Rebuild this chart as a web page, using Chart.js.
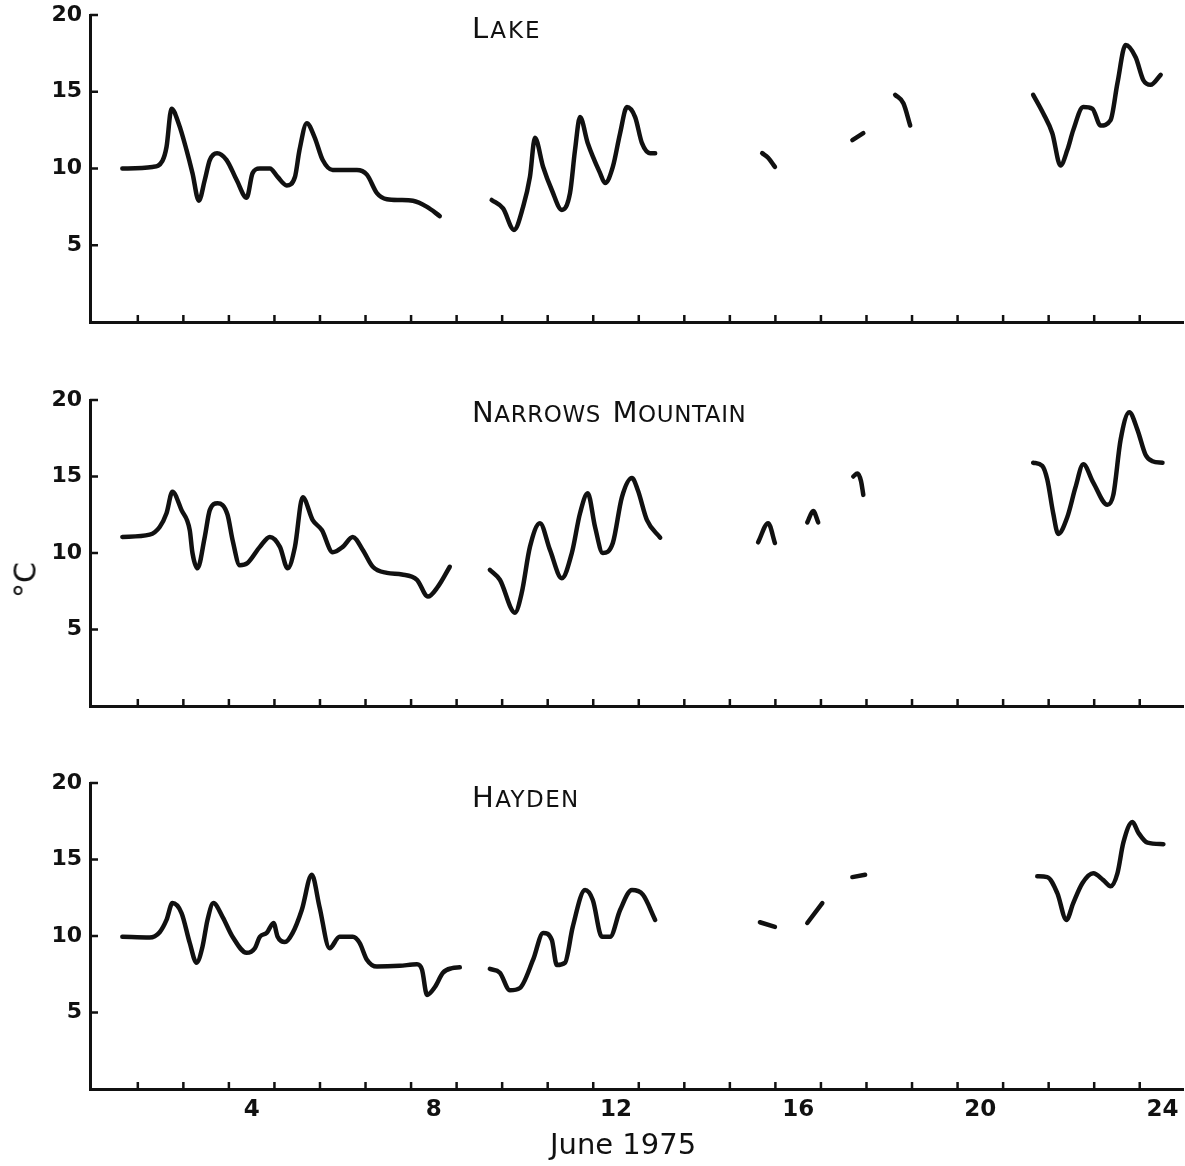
<!DOCTYPE html>
<html>
<head>
<meta charset="utf-8">
<script src="https://cdn.jsdelivr.net/npm/chart.js@4.4.0/dist/chart.umd.min.js"></script>
<style>
    body { margin: 0; background: #fff; }
    #wrap { position: relative; width: 1185px; height: 1166px; background: #fff; font-family: "DejaVu Sans", sans-serif; color: #111; }
    canvas { position: absolute; left: 0; }
    .title { position: absolute; white-space: nowrap; line-height: 1; letter-spacing: 2px; }
    .big { font-size: 29px; }
    .small { font-size: 23px; }
</style>
</head>
<body>
<div id="wrap">
    <canvas id="lakeChart" width="1185" height="340" style="top:0px"></canvas>
    <canvas id="narrowsChart" width="1185" height="339" style="top:385px"></canvas>
    <canvas id="haydenChart" width="1185" height="398" style="top:768px"></canvas>

    <div class="title" style="left:472px;top:14px"><span class="big">L</span><span class="small">AKE</span></div>
    <div class="title" style="left:472px;top:398px;letter-spacing:0.6px"><span class="big">N</span><span class="small">ARROWS</span>&nbsp; <span class="big">M</span><span class="small">OUNTAIN</span></div>
    <div class="title" style="left:472px;top:783px;letter-spacing:1.4px"><span class="big">H</span><span class="small">AYDEN</span></div>

    <div style="position:absolute;left:25px;top:580px;font-size:30px;transform:translate(-50%,-50%) rotate(-90deg);">°C</div>
    <div style="position:absolute;left:550px;top:1130px;font-size:29px;line-height:1;">June 1975</div>
</div>

<script>
/**
 * Axis ticks
 **/
let dayLabels = [4, 8, 12, 16, 20, 24];
let dayTicks = [1.5, 2.5, 3.5, 4.5, 5.5, 6.5, 7.5, 8.5, 9.5, 10.5, 11.5, 12.5, 13.5, 14.5, 15.5, 16.5, 17.5, 18.5, 19.5, 20.5, 21.5, 22.5, 23.5];
let tempTicks = [5, 10, 15, 20];

/**
 * Lake (null = gap in record)
 **/
let lakeDay = [1.16, 1.82, 2.04, 2.13, 2.24, 2.40, 2.57, 2.70, 2.84, 2.97, 3.08, 3.24, 3.45, 3.67, 3.89, 4.02, 4.18, 4.40, 4.57, 4.77, 4.95, 5.05, 5.21, 5.38, 5.56, 5.78, 6.31, 6.53, 6.75, 6.97, 7.25, 7.54, 7.85, 8.13,
    8.7,
    9.27, 9.52, 9.76, 9.96, 10.11, 10.22, 10.40, 10.59, 10.81, 10.99, 11.10, 11.21, 11.38, 11.65, 11.76, 11.93, 12.09, 12.24, 12.42, 12.57, 12.75, 12.86,
    14,
    15.21, 15.34, 15.49,
    16.5,
    17.19, 17.43,
    17.8,
    18.13, 18.31, 18.46,
    20,
    21.16, 21.38, 21.58, 21.76, 21.91, 22.04, 22.26, 22.46, 22.64, 22.86, 23.01, 23.19, 23.41, 23.58, 23.74, 23.96];
let lakeTemp = [10.0, 10.1, 10.5, 11.4, 13.9, 12.9, 11.2, 9.7, 7.9, 9.25, 10.55, 11.0, 10.55, 9.25, 8.1, 9.7, 10.0, 10.0, 9.45, 8.9, 9.45, 11.2, 12.95, 12.05, 10.55, 9.9, 9.9, 9.6, 8.4, 8.0, 7.95, 7.9, 7.5, 6.9,
    null,
    7.95, 7.4, 6.0, 7.5, 9.45, 12.0, 10.1, 8.6, 7.3, 8.4, 11.2, 13.35, 11.65, 9.7, 9.05, 10.1, 12.3, 14.0, 13.35, 11.65, 11.0, 11.0,
    null,
    11.0, 10.7, 10.1,
    null,
    11.85, 12.3,
    null,
    14.8, 14.25, 12.8,
    null,
    14.8, 13.6, 12.3, 10.2, 11.2, 12.5, 14.0, 13.9, 12.8, 13.15, 15.55, 18.05, 17.25, 15.75, 15.45, 16.1];

/**
 * Narrows Mountain
 **/
let narrowsDay = [1.16, 1.76, 1.98, 2.13, 2.26, 2.46, 2.64, 2.70, 2.81, 2.97, 3.08, 3.25, 3.47, 3.58, 3.74, 3.91, 4.18, 4.40, 4.62, 4.79, 4.95, 5.12, 5.34, 5.54, 5.78, 6.0, 6.22, 6.44, 6.66, 6.97, 7.3, 7.63, 7.87, 8.09, 8.35,
    8.8,
    9.23, 9.45, 9.78, 9.93, 10.11, 10.33, 10.55, 10.81, 11.03, 11.21, 11.38, 11.54, 11.71, 11.93, 12.13, 12.35, 12.48, 12.68, 12.97,
    14,
    15.12, 15.34, 15.49,
    15.8,
    16.2, 16.33, 16.44,
    16.8,
    17.21, 17.3, 17.38, 17.43,
    19,
    21.16, 21.36, 21.47, 21.6, 21.71, 21.91, 22.09, 22.26, 22.48, 22.79, 22.92, 23.08, 23.27, 23.45, 23.63, 23.78, 24.0];
let narrowsTemp = [11.05, 11.2, 11.7, 12.6, 14.0, 12.8, 11.5, 10.0, 9.0, 11.05, 12.8, 13.25, 12.5, 10.85, 9.2, 9.35, 10.4, 11.05, 10.4, 9.0, 10.4, 13.65, 12.15, 11.5, 10.05, 10.4, 11.05, 10.2, 9.1, 8.7, 8.6, 8.25, 7.15, 7.8, 9.1,
    null,
    8.9, 8.25, 6.1, 7.4, 10.4, 11.95, 10.2, 8.35, 10.0, 12.6, 13.9, 11.7, 10.0, 10.65, 13.65, 14.9, 14.1, 12.15, 11.0,
    null,
    10.7, 11.95, 10.65,
    null,
    12.0, 12.75, 12.0,
    null,
    15.0, 15.2, 14.7, 13.8,
    null,
    15.9, 15.7, 14.8, 12.6, 11.25, 12.35, 14.3, 15.8, 14.6, 13.15, 13.8, 17.4, 19.2, 18.05, 16.4, 16.0, 15.9];

/**
 * Hayden
 **/
let haydenDay = [1.16, 1.76, 1.98, 2.13, 2.26, 2.46, 2.64, 2.79, 2.92, 3.03, 3.16, 3.36, 3.58, 3.89, 4.07, 4.18, 4.33, 4.48, 4.57, 4.73, 4.90, 5.10, 5.32, 5.49, 5.71, 5.93, 6.22, 6.37, 6.53, 6.75, 7.25, 7.63, 7.74, 7.85, 8.02, 8.2, 8.4, 8.57,
    8.9,
    9.23, 9.45, 9.67, 9.89, 10.18, 10.40, 10.59, 10.70, 10.88, 11.05, 11.32, 11.49, 11.69, 11.87, 12.09, 12.35, 12.59, 12.86,
    14,
    15.16, 15.49,
    15.8,
    16.2, 16.53,
    16.8,
    17.19, 17.47,
    19,
    21.25, 21.47, 21.69, 21.89, 22.04, 22.24, 22.48, 22.70, 22.86, 23.01, 23.14, 23.34, 23.47, 23.67, 24.02];
let haydenTemp = [9.95, 9.9, 10.25, 11.05, 12.15, 11.5, 9.55, 8.25, 9.3, 11.05, 12.15, 11.25, 9.95, 8.9, 9.2, 9.95, 10.2, 10.85, 9.95, 9.6, 10.2, 11.7, 14.0, 11.9, 9.2, 9.95, 9.95, 9.55, 8.45, 8.0, 8.05, 8.15, 7.8, 6.15, 6.65, 7.6, 7.9, 7.95,
    null,
    7.85, 7.6, 6.45, 6.6, 8.45, 10.2, 9.75, 8.1, 8.25, 10.6, 13.0, 12.35, 9.95, 9.95, 11.7, 13.0, 12.7, 11.05,
    null,
    10.9, 10.6,
    null,
    10.85, 12.15,
    null,
    13.85, 14.0,
    null,
    13.9, 13.85, 12.8, 11.05, 12.15, 13.45, 14.1, 13.65, 13.25, 14.1, 16.1, 17.45, 16.75, 16.1, 16.0];

let ink = "#111";

// small tick marks pointing into the plot, like the original drawing
const inwardTicks = {
    id: "inwardTicks",
    afterDraw(chart) {
        let ctx = chart.ctx;
        let xs = chart.scales.x;
        let ys = chart.scales.y;
        ctx.save();
        ctx.strokeStyle = ink;
        ctx.lineWidth = 2.5;
        ctx.beginPath();
        dayTicks.forEach(d => {
            let px = xs.getPixelForValue(d);
            ctx.moveTo(px, ys.bottom);
            ctx.lineTo(px, ys.bottom - 7);
        });
        tempTicks.forEach(t => {
            let py = ys.getPixelForValue(t);
            ctx.moveTo(xs.left, py);
            ctx.lineTo(xs.left + 8, py);
        });
        ctx.stroke();
        ctx.restore();
    }
};

function makePanel(id, days, temps, bottomHeight, showDays) {
    let points = [];
    for (let i = 0; i < days.length; i++) {
        points.push({x: days[i], y: temps[i]});
    }
    new Chart(document.getElementById(id), {
        type: "line",
        data: {
            datasets: [{
                data: points,
                borderColor: ink,
                borderWidth: 4.5,
                pointRadius: 0,
                fill: false,
                spanGaps: false,
                cubicInterpolationMode: "monotone",
                borderCapStyle: "round",
                borderJoinStyle: "round"
            }]
        },
        options: {
            responsive: false,
            animation: false,
            layout: {padding: {top: 15, right: 2, left: 0, bottom: 0}},
            plugins: {legend: {display: false}, tooltip: {enabled: false}},
            scales: {
                x: {
                    type: "linear",
                    min: 0.45,
                    max: 24.45,
                    afterBuildTicks: s => { s.ticks = dayLabels.map(v => ({value: v})); },
                    afterFit: s => { s.height = bottomHeight; s.paddingLeft = 0; s.paddingRight = 0; },
                    grid: {drawOnChartArea: false, drawTicks: false},
                    border: {display: true, color: ink, width: 3},
                    ticks: {
                        display: showDays,
                        color: ink,
                        padding: 7,
                        maxRotation: 0,
                        autoSkip: false,
                        font: {family: "DejaVu Sans", size: 23, weight: "bold"}
                    }
                },
                y: {
                    min: 0,
                    max: 20,
                    afterBuildTicks: s => { s.ticks = tempTicks.map(v => ({value: v})); },
                    afterFit: s => { s.width = 90; s.paddingTop = 0; s.paddingBottom = 0; },
                    grid: {drawOnChartArea: false, drawTicks: false},
                    border: {display: true, color: ink, width: 3},
                    ticks: {
                        color: ink,
                        padding: 8,
                        font: {family: "DejaVu Sans", size: 22, weight: "bold"}
                    }
                }
            }
        },
        plugins: [inwardTicks]
    });
}

makePanel("lakeChart", lakeDay, lakeTemp, 18, false);
makePanel("narrowsChart", narrowsDay, narrowsTemp, 18, false);
makePanel("haydenChart", haydenDay, haydenTemp, 77, true);
</script>
</body>
</html>
